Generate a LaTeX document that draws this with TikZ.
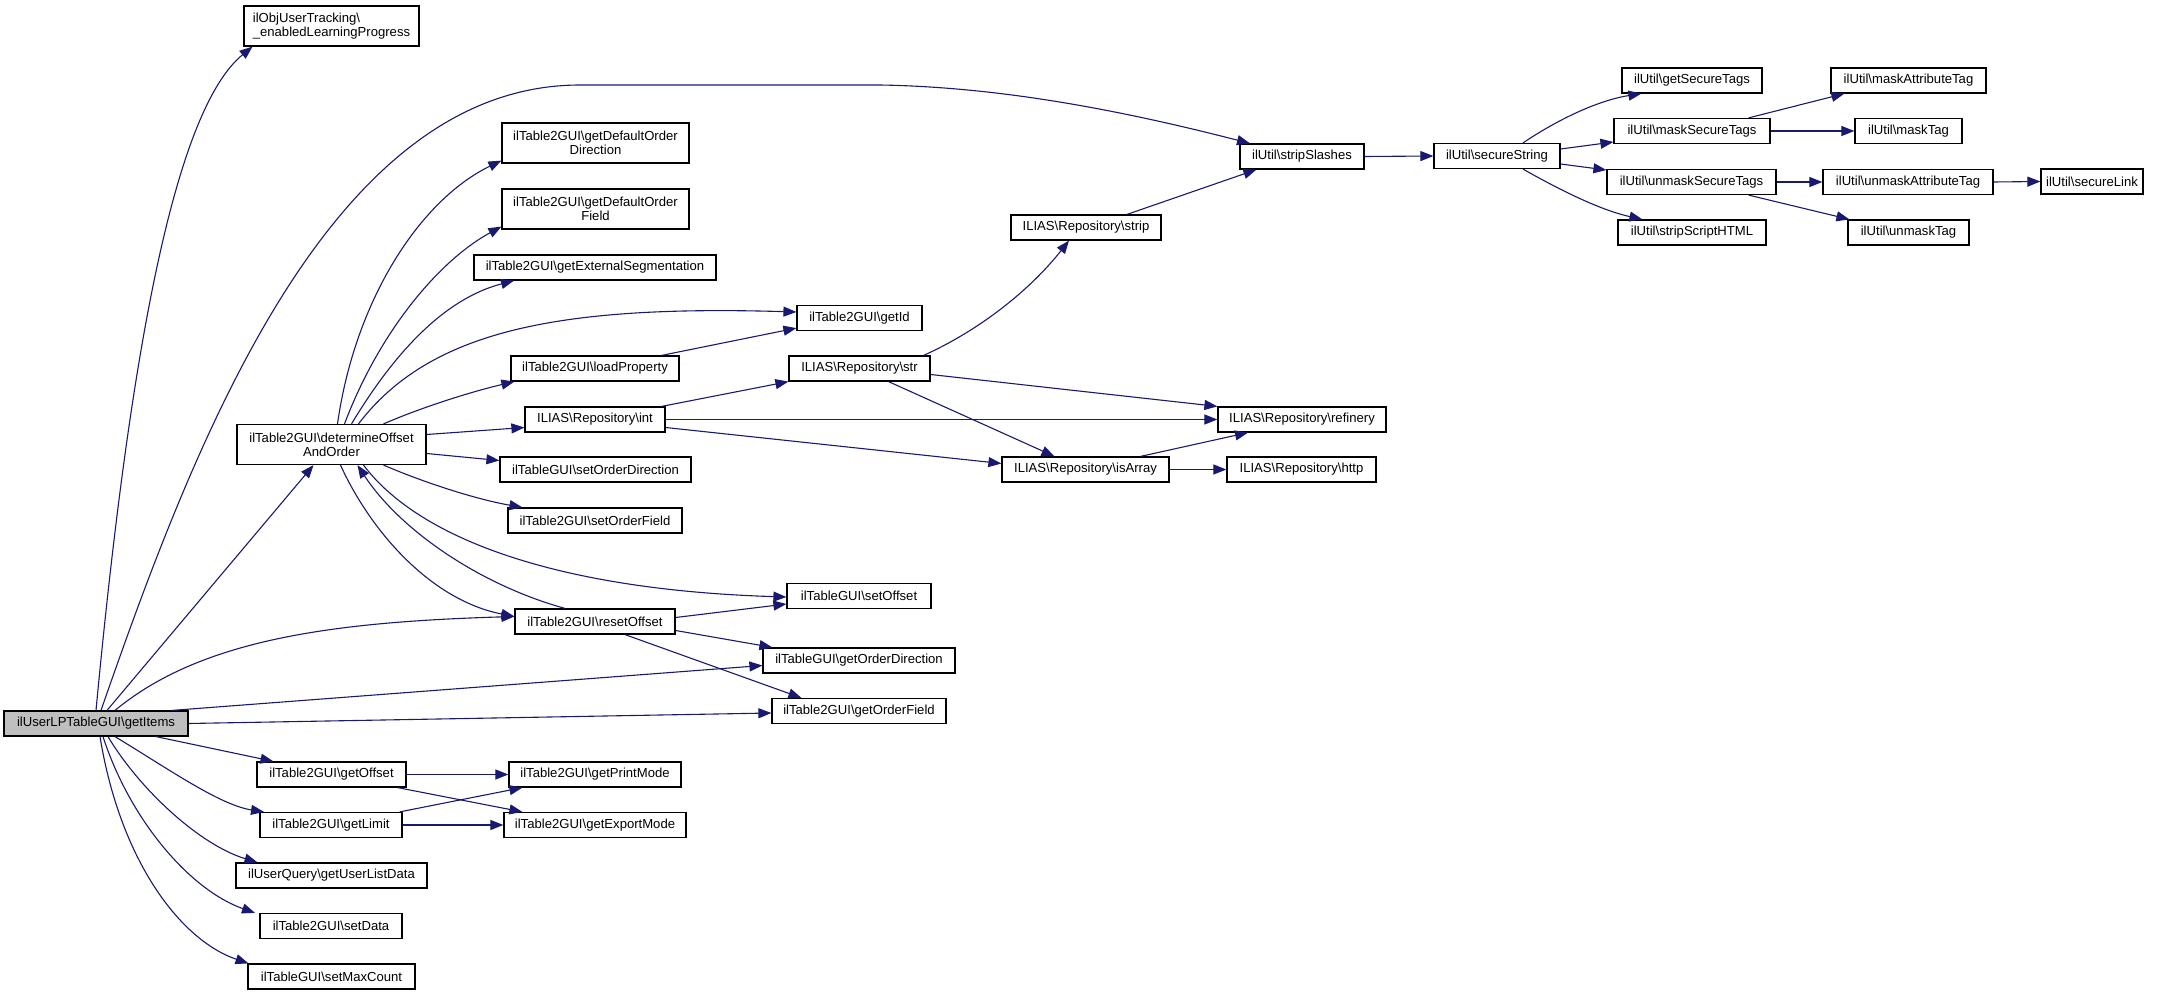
\documentclass[tikz,border=0pt]{standalone}
\usepackage{fontspec}
\setmainfont{Liberation Sans}
\usepackage{tikz}
\usetikzlibrary{arrows.meta}
\definecolor{edgeblue}{HTML}{191970}
\tikzstyle{fn}=[draw=black, fill=white, line width=1.2pt, inner sep=2pt, minimum height=25pt, font=\fontsize{13.1}{14}\selectfont]
\tikzstyle{fntwo}=[fn, minimum height=40pt, align=center]
\tikzstyle{fnroot}=[fn, fill=gray!50]
\tikzstyle{call}=[draw=edgeblue, line width=1.1pt, -{Triangle[length=13pt,width=10pt]}]
\newcommand{\nsep}{\textbackslash}

\begin{document}
\begin{tikzpicture}[x=1pt,y=-1pt]
	\useasboundingbox (0,0) rectangle (2161,995);
	% left part
	\node[fnroot, minimum width=184] (items) at (96,723.5) {ilUserLPTableGUI\nsep getItems};
	\node[fntwo, align=left, minimum width=175] (track) at (331.5,26) {ilObjUserTracking\nsep\\\_enabledLearningProgress};
	\node[fntwo, minimum width=189] (detOff) at (331.5,444.5) {ilTable2GUI\nsep determineOffset\\AndOrder};
	\node[fn, minimum width=149] (getOff) at (331.5,774.5) {ilTable2GUI\nsep getOffset};
	\node[fn, minimum width=142] (getLim) at (331,825) {ilTable2GUI\nsep getLimit};
	\node[fn, minimum width=191] (usrList) at (331.5,875.5) {ilUserQuery\nsep getUserListData};
	\node[fn, minimum width=142] (setDat) at (331,926) {ilTable2GUI\nsep setData};
	\node[fn, minimum width=167] (maxCnt) at (331.5,976.5) {ilTableGUI\nsep setMaxCount};
	\node[fntwo, minimum width=187] (defDir) at (595.5,143) {ilTable2GUI\nsep getDefaultOrder\\Direction};
	\node[fntwo, minimum width=187] (defFld) at (595.5,209) {ilTable2GUI\nsep getDefaultOrder\\Field};
	\node[fn, minimum width=242] (extSeg) at (595,267.5) {ilTable2GUI\nsep getExternalSegmentation};
	\node[fn, minimum width=168] (loadProp) at (595,368.5) {ilTable2GUI\nsep loadProperty};
	\node[fn, minimum width=140] (repInt) at (595,419.5) {ILIAS\nsep Repository\nsep int};
	\node[fn, minimum width=191] (setODir) at (595.5,469.5) {ilTableGUI\nsep setOrderDirection};
	\node[fn, minimum width=174] (setOFld) at (595,520.5) {ilTable2GUI\nsep setOrderField};
	\node[fn, minimum width=160] (resOff) at (595,621.5) {ilTable2GUI\nsep resetOffset};
	\node[fn, minimum width=172] (prMode) at (595,774.5) {ilTable2GUI\nsep getPrintMode};
	\node[fn, minimum width=182] (exMode) at (595,825) {ilTable2GUI\nsep getExportMode};
	\node[fn, minimum width=125] (getId) at (859.5,318) {ilTable2GUI\nsep getId};
	\node[fn, minimum width=141] (repStr) at (859.5,368.5) {ILIAS\nsep Repository\nsep str};
	\node[fn, minimum width=144] (setOff) at (859,596) {ilTableGUI\nsep setOffset};
	\node[fn, minimum width=192] (ordDir) at (859,660.5) {ilTableGUI\nsep getOrderDirection};
	\node[fn, minimum width=174] (ordFld) at (859,711) {ilTable2GUI\nsep getOrderField};
	% right part
	\node[fn, minimum width=150] (repStrip) at (1086,227.5) {ILIAS\nsep Repository\nsep strip};
	\node[fn, minimum width=167] (isArr) at (1085.5,469.5) {ILIAS\nsep Repository\nsep isArray};
	\node[fn, minimum width=124] (strSl) at (1302,156.5) {ilUtil\nsep stripSlashes};
	\node[fn, minimum width=168] (refin) at (1302,419.5) {ILIAS\nsep Repository\nsep refinery};
	\node[fn, minimum width=149] (http) at (1301.5,469.5) {ILIAS\nsep Repository\nsep http};
	\node[fn, minimum width=126] (secStr) at (1497,156) {ilUtil\nsep secureString};
	\node[fn, minimum width=140] (getSec) at (1692,80.5) {ilUtil\nsep getSecureTags};
	\node[fn, minimum width=156] (maskSec) at (1692,131) {ilUtil\nsep maskSecureTags};
	\node[fn, minimum width=169] (unmSec) at (1691.5,182) {ilUtil\nsep unmaskSecureTags};
	\node[fn, minimum width=148] (strScr) at (1692,232.5) {ilUtil\nsep stripScriptHTML};
	\node[fn, minimum width=155] (maskAtt) at (1908.5,80.5) {ilUtil\nsep maskAttributeTag};
	\node[fn, minimum width=107] (maskTag) at (1908.5,131) {ilUtil\nsep maskTag};
	\node[fn, minimum width=170] (unmAtt) at (1908,182) {ilUtil\nsep unmaskAttributeTag};
	\node[fn, minimum width=121] (unmTag) at (1908.5,232.5) {ilUtil\nsep unmaskTag};
	\node[fn, minimum width=102] (secLink) at (2092,181.5) {ilUtil\nsep secureLink};
	% calls of getItems
	\draw[call] (items.north) .. controls (130,350) and (175,110) .. ([xshift=-79]track.south);
	\draw[call] ([xshift=5]items.north) .. controls (195,440) and (330,85) .. (580,85) -- (880,85) .. controls (1000,87) and (1120,110) .. ([xshift=-52]strSl.north);
	\draw[call] ([xshift=11]items.north) -- ([xshift=-18]detOff.south);
	\draw[call] ([xshift=19]items.north) .. controls (200,640) and (330,622) .. ([yshift=5]resOff.west);
	\draw[call] ([xshift=76]items.north) -- ([yshift=-5]ordDir.west);
	\draw[call] (items.east) -- ([yshift=-2]ordFld.west);
	\draw[call] ([xshift=60]items.south) -- ([xshift=-58]getOff.north);
	\draw[call] ([xshift=19]items.south) .. controls (170,770) and (220,805) .. ([xshift=-67]getLim.north);
	\draw[call] ([xshift=12]items.south) .. controls (140,790) and (200,845) .. ([xshift=-74]usrList.north);
	\draw[call] ([xshift=7]items.south) .. controls (130,820) and (190,890) .. ([xshift=-76]setDat.north);
	\draw[call] ([xshift=4]items.south) .. controls (120,860) and (180,940) .. ([xshift=-83]maxCnt.north);
	% calls of determineOffsetAndOrder
	\draw[call] ([xshift=6]detOff.north) .. controls (355,300) and (420,200) .. ([yshift=3]defDir.south west);
	\draw[call] ([xshift=13]detOff.north) .. controls (380,330) and (440,260) .. ([yshift=3]defFld.south west);
	\draw[call] ([xshift=20]detOff.north) .. controls (390,360) and (440,300) .. ([xshift=-81]extSeg.south);
	\draw[call] ([xshift=27]detOff.north) .. controls (430,330) and (560,305) .. ([yshift=6]getId.west);
	\draw[call] ([xshift=52]detOff.north) .. controls (420,408) and (470,392) .. ([xshift=4]loadProp.south west);
	\draw[call] ([yshift=10]detOff.east) -- ([yshift=-8]repInt.west);
	\draw[call] ([yshift=-9]detOff.east) -- ([yshift=9]setODir.west);
	\draw[call] ([xshift=52]detOff.south) .. controls (430,485) and (480,500) .. ([xshift=15]setOFld.north west);
	\draw[call] ([xshift=9]detOff.south) .. controls (370,530) and (430,600) .. ([yshift=5]resOff.west);
	\draw[call] ([xshift=32]detOff.south) .. controls (420,540) and (560,590) .. ([yshift=-1]setOff.west);
	\draw[call] ([xshift=-30]resOff.north) .. controls (480,585) and (400,530) .. ([xshift=26]detOff.south);
	% resetOffset
	\draw[call] ([yshift=4]resOff.east) -- ([yshift=-8]setOff.west);
	\draw[call] ([yshift=-9]resOff.east) -- ([xshift=10]ordDir.north west);
	\draw[call] ([xshift=30]resOff.south) -- ([xshift=30]ordFld.north west);
	% repository
	\draw[call] ([xshift=-18]loadProp.north east) -- ([yshift=3]getId.south west);
	\draw[call] ([xshift=-4]repInt.north east) -- (repStr.south west);
	\draw[call] (repInt.east) -- (refin.west);
	\draw[call] ([yshift=-8]repInt.east) -- ([yshift=6]isArr.west);
	\draw[call] ([xshift=-7]repStr.north east) .. controls (980,330) and (1030,290) .. ([xshift=-17]repStrip.south);
	\draw[call] ([yshift=-6]repStr.east) -- (refin.north west);
	\draw[call] ([xshift=29]repStr.south) -- ([xshift=-31]isArr.north);
	\draw[call] ([xshift=41]repStrip.north) -- ([xshift=17]strSl.south west);
	\draw[call] ([xshift=55]isArr.north) -- ([xshift=-54]refin.south);
	\draw[call] (isArr.east) -- (http.west);
	% ilUtil
	\draw[call] (strSl.east) -- (secStr.west);
	\draw[call] ([xshift=26]secStr.north) .. controls (1560,118) and (1600,100) .. ([xshift=20]getSec.south west);
	\draw[call] ([yshift=7]secStr.east) -- ([yshift=-11]maskSec.west);
	\draw[call] ([yshift=-8]secStr.east) -- ([yshift=12]unmSec.west);
	\draw[call] ([xshift=26]secStr.south) .. controls (1560,190) and (1600,210) .. ([xshift=25]strScr.north west);
	\draw[call] ([xshift=-22]maskSec.north east) -- ([xshift=14]maskAtt.south west);
	\draw[call] (maskSec.east) -- (maskTag.west);
	\draw[call] (unmSec.east) -- (unmAtt.west);
	\draw[call] ([xshift=-28]unmSec.south east) -- ([xshift=2]unmTag.north west);
	\draw[call] (unmAtt.east) -- (secLink.west);
	% modes
	\draw[call] (getOff.east) -- (prMode.west);
	\draw[call] ([xshift=-9]getOff.south east) -- ([xshift=19]exMode.north west);
	\draw[call] ([xshift=-3]getLim.north east) -- ([xshift=14]prMode.south west);
	\draw[call] (getLim.east) -- (exMode.west);
\end{tikzpicture}
\end{document}
